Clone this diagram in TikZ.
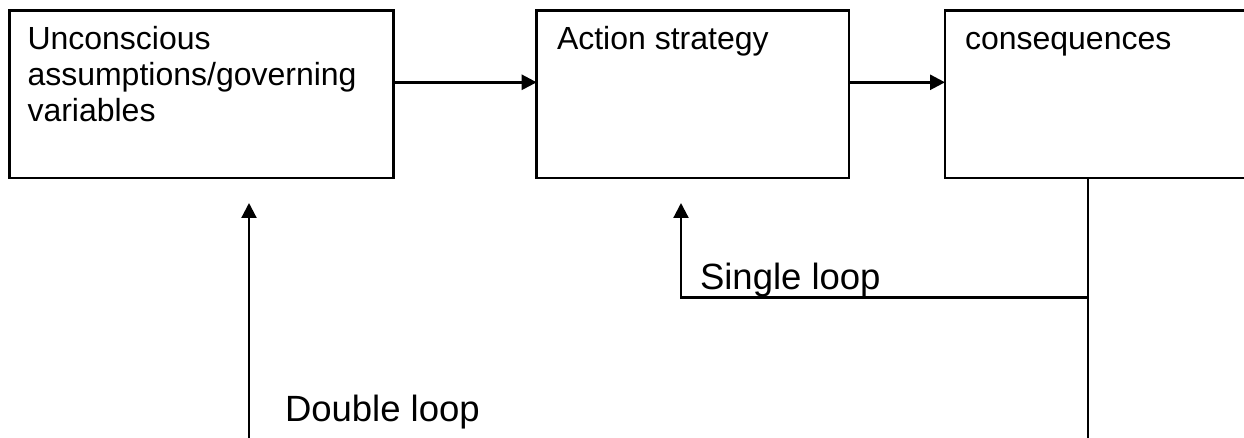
\documentclass[tikz,border=0pt]{standalone}
\usepackage{fontspec}
\setmainfont{Liberation Sans}
\usetikzlibrary{arrows.meta}
\begin{document}
\begin{tikzpicture}[x=1pt,y=-1pt,
  boxnode/.style={draw, line width=2.6pt, minimum width=#1, minimum height=167.7pt, inner sep=0pt, outer sep=0pt, anchor=north west},
  boxtext/.style={inner sep=0pt, outer sep=0pt, font=\fontsize{32}{36}\selectfont, align=left},
  looplabel/.style={inner sep=0pt, outer sep=0pt, anchor=base west, font=\fontsize{36.5}{42}\selectfont},
  flow/.style={line width=2.6pt, -{Triangle[length=15pt,width=15pt]}},
  loopline/.style={line width=2.2pt},
  looparrow/.style={line width=2.2pt, -{Triangle[length=15pt,width=15pt]}}]
\clip (0,0) rectangle (1244,438);
\fill[white] (0,0) rectangle (1244,438);
% boxes
\node[boxnode=384pt] (a) at (9.3,10.3) {};
\node[boxnode=312.3pt] (b) at (536.7,10.3) {};
\node[boxnode=320pt] (c) at (945,10.3) {};
% box texts
\node[boxtext, anchor=north west] (ta) at (27.5,24.8) {\strut Unconscious\\assumptions/governing\\variables};
\node[boxtext, anchor=base west] (tb) at (557,50) {Action strategy};
\node[boxtext, anchor=base west] (tc) at (965,50) {consequences};
% forward arrows
\draw[flow] ([yshift=-72pt]a.north east) -- ([yshift=-72pt]b.north west);
\draw[flow] ([yshift=-72pt]b.north east) -- ([yshift=-72pt]c.north west);
% feedback loops
\coordinate (cdrop) at ([xshift=143pt]c.south west);
\coordinate (bottomR) at (1088,440);
\coordinate (jn) at (1088,297.5);
\coordinate (sltip) at (681,203);
\coordinate (dltip) at (249,203);
\coordinate (dlbase) at (249,440);
\draw[loopline] (cdrop) -- (bottomR);
\draw[looparrow] (jn) -- (sltip |- jn) -- (sltip);
\draw[looparrow] (dlbase) -- (dltip);
% labels
\node[looplabel] (sl) at (700,289.5) {Single loop};
\node[looplabel] (dl) at (285,421) {Double loop};
\end{tikzpicture}
\end{document}
